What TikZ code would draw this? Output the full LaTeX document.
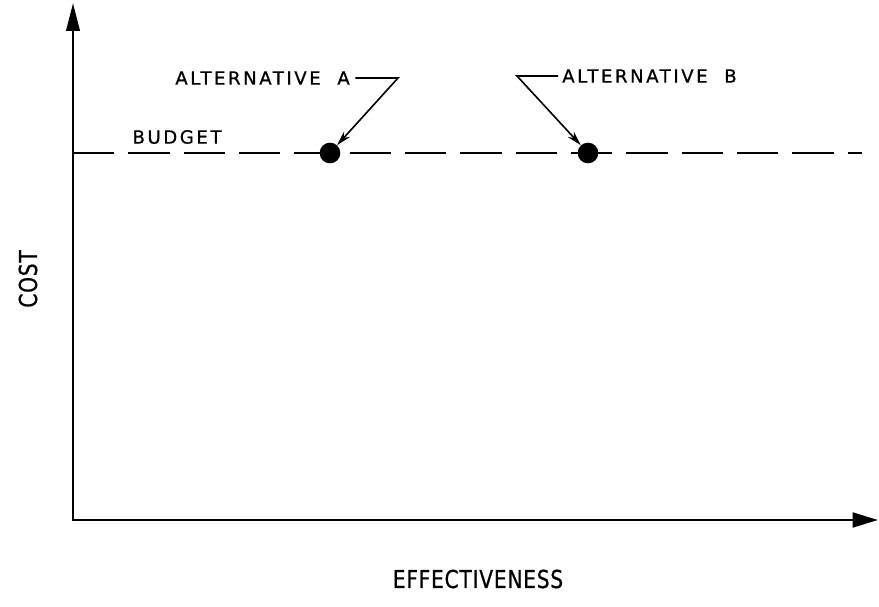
\documentclass[tikz,border=0pt]{standalone}
\usepackage{fontspec}
\setmainfont{DejaVu Sans}[LetterSpace=14, FakeBold=0.8]
\newfontfamily\axisfont{DejaVu Sans}[FakeStretch=0.82, LetterSpace=3, FakeBold=0.6]
\usetikzlibrary{arrows.meta}

\begin{document}
\begin{tikzpicture}[
  x=0.75pt, y=0.75pt,
  font=\fontsize{13.6}{16}\selectfont,
  axis/.style={line width=2.2pt},
  axislabel/.style={inner sep=0pt, font=\axisfont\fontsize{18.5}{22}\selectfont},
  budgetline/.style={line width=2.2pt, dash pattern=on 31pt off 10.5pt},
  leader/.style={line width=1.2pt, -{Stealth[length=11pt,width=6pt]}},
  lbl/.style={inner sep=0pt},
  dot/.style={circle, fill=black, minimum size=15.5pt, inner sep=0pt}
]
\useasboundingbox (0,0) rectangle (879,607);

% AXES
\coordinate (O) at (73,87);
\coordinate (ytip) at (73,604);
\coordinate (xtip) at (878,87);
\draw[axis, {Triangle[length=21pt,width=10pt]}-{Triangle[length=19pt,width=11pt]}] (ytip) -- (O) -- (xtip);
\node[axislabel, rotate=90] (cost) at (28,328) {COST};
\node[axislabel] (eff) at (478,28) {EFFECTIVENESS};

% BUDGET LINE
\coordinate (b0) at (73,454);
\coordinate (b1) at (862,454);
\draw[budgetline] (b0) -- (b1);
\node[lbl] (budget) at (177,470) {BUDGET};

% ALTERNATIVES
\node[dot] (A) at (330,454) {};
\node[dot] (B) at (588,454) {};

\node[lbl, anchor=east] (altA) at (350,529) {ALTERNATIVE\ \ A};
\coordinate (kA) at (398,529);
\draw[leader] ([xshift=4pt]altA.east) -- (kA) -- (A);

\node[lbl, anchor=west] (altB) at (562,531) {ALTERNATIVE\ \ B};
\coordinate (kB) at (517,531);
\draw[leader] ([xshift=-3pt]altB.west) -- (kB) -- (B);

\end{tikzpicture}
\end{document}
